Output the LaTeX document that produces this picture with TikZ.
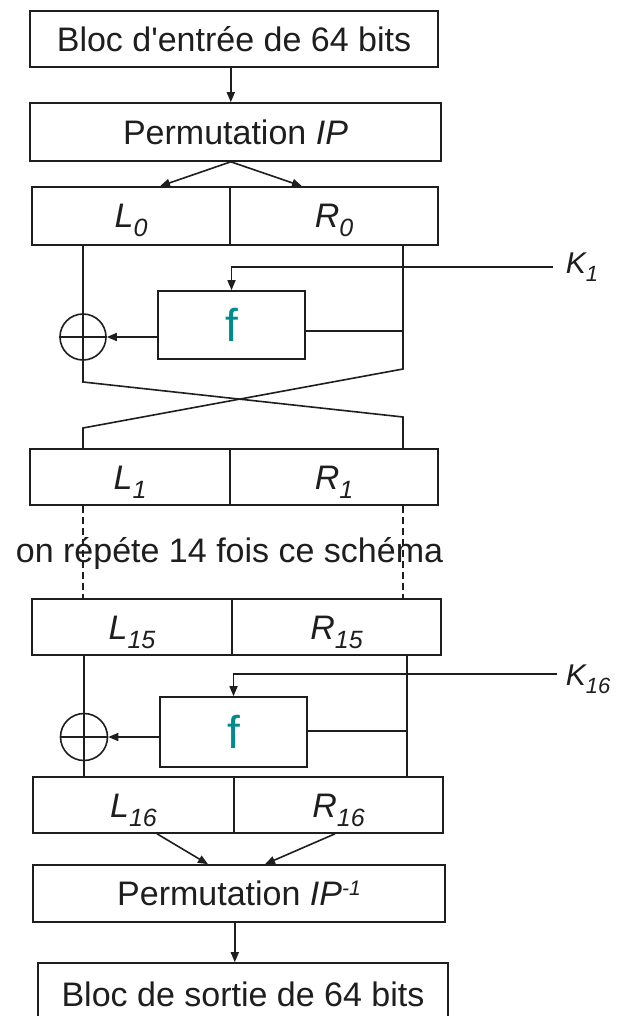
\documentclass[tikz,border=0pt]{standalone}
\usepackage{fontspec}
\setmainfont{Liberation Sans}
\usetikzlibrary{arrows.meta}
\definecolor{fteal}{RGB}{0,140,140}
\definecolor{ink}{RGB}{30,30,30}
\newcommand\lsub[1]{\raisebox{-9pt}{\fontsize{25}{25}\selectfont #1}}
\newcommand\ksub[1]{\raisebox{-8pt}{\fontsize{22}{22}\selectfont #1}}
\newcommand\psup[1]{\raisebox{10pt}{\fontsize{21}{21}\selectfont #1}}
\begin{document}
\begin{tikzpicture}[x=1pt,y=-1pt, line width=1.6pt, draw=ink,
  every node/.style={inner sep=0pt, text=ink},
  blk/.style={draw=ink, rectangle, font=\fontsize{34}{40}\selectfont, text height=24.5pt, text depth=0pt},
  half/.style={draw=ink, rectangle, font=\fontsize{34}{40}\selectfont\itshape, text height=24pt, text depth=0pt},
  fbox/.style={draw=ink, rectangle, text=fteal, font=\fontsize{46}{50}\selectfont},
  xor/.style={draw=ink, circle, minimum size=46pt},
  arr/.style={-{Triangle[length=10pt,width=8pt]}},
  klab/.style={anchor=base west, font=\fontsize{30}{36}\selectfont\itshape},
  dsh/.style={dash pattern=on 7pt off 4pt}
]
\useasboundingbox (0,0) rectangle (617,1016);
\clip (0,0) rectangle (617,1016);
\fill[white] (0,0) rectangle (617,1016);

% boxes
\node[blk, minimum width=408pt, minimum height=56pt] (in) at (234,39) {Bloc d\textquotesingle entrée de 64 bits};
\node[blk, minimum width=411pt, minimum height=58pt] (ip) at (235.5,132) {Permutation \textit{IP}};
\node[half, minimum width=198pt, minimum height=58pt] (L0) at (131,216) {L\lsub{0}};
\node[half, minimum width=208pt, minimum height=58pt] (R0) at (334,216) {R\lsub{0}};
\node[fbox, minimum width=147pt, minimum height=68pt] (f1) at (231.5,325) {f};
\node[xor] (x1) at (83,337) {};
\node[half, minimum width=200pt, minimum height=56pt] (L1) at (130,477) {L\lsub{1}};
\node[half, minimum width=208pt, minimum height=56pt] (R1) at (334,477) {R\lsub{1}};
\node[anchor=base, font=\fontsize{34}{40}\selectfont] (rep) at (229.5,562) {on répéte 14 fois ce schéma};
\node[half, minimum width=200pt, minimum height=56pt] (L15) at (132,627) {L\lsub{15}};
\node[half, minimum width=209pt, minimum height=56pt] (R15) at (336.5,627) {R\lsub{15}};
\node[fbox, minimum width=147pt, minimum height=70pt] (f2) at (233.5,732) {f};
\node[xor, minimum size=47pt] (x2) at (84,737) {};
\node[half, minimum width=201pt, minimum height=56pt] (L16) at (133.5,805) {L\lsub{16}};
\node[half, minimum width=209pt, minimum height=56pt] (R16) at (338.5,805) {R\lsub{16}};
\node[blk, minimum width=412pt, minimum height=57pt] (ipinv) at (239,893.5) {Permutation \textit{IP\psup{-1}}};
\node[blk, minimum width=410pt, minimum height=62pt] (out) at (243,994) {Bloc de sortie de 64 bits};
\node[klab] (k1) at (565,273) {K\ksub{1}};
\node[klab] (k16) at (565,685) {K\ksub{16}};

% top connectors
\draw[arr] (in.south -| L0.east) -- (ip.north -| L0.east);
\draw[arr] (ip.south -| L0.east) -- ([xshift=29pt]L0.north);
\draw[arr] (ip.south -| L0.east) -- ([xshift=-32pt]R0.north);

% round 1
\coordinate (a1) at (83,382);
\coordinate (a2) at (403,417);
\coordinate (b1) at (403,369);
\coordinate (b2) at (83,428);
\coordinate (kc1) at (553,267);
\coordinate (fr1) at (403,331);
\draw (L0.south -| a1) -- (a1) -- (a2) -- (a2 |- L1.north);
\draw (R0.south -| b1) -- (b1) -- (b2) -- (b2 |- L1.north);
\draw[arr] (kc1) -| (f1.north);
\draw (f1.east |- fr1) -- (fr1);
\draw[arr] (f1.west |- x1.east) -- (x1.east);
\draw (x1.west) -- (x1.east);

% repetition
\draw[dsh] (L1.south -| a1) -- (L15.north -| a1);
\draw[dsh] (R1.south -| a2) -- (R15.north -| a2);

% round 16
\coordinate (kc16) at (557,674);
\coordinate (fr2) at (407,731);
\draw (L15.south -| x2) -- (L16.north -| x2);
\draw (R15.south -| fr2) -- (R16.north -| fr2);
\draw[arr] (kc16) -| (f2.north);
\draw (f2.east |- fr2) -- (fr2);
\draw[arr] (f2.west |- x2.east) -- (x2.east);
\draw (x2.west) -- (x2.east);

% final
\draw[arr] ([xshift=23.5pt]L16.south) -- ([xshift=-31pt]ipinv.north);
\draw[arr] ([xshift=-3.5pt]R16.south) -- ([xshift=26pt]ipinv.north);
\draw[arr] (ipinv.south -| L16.east) -- (out.north -| L16.east);
\end{tikzpicture}
\end{document}
